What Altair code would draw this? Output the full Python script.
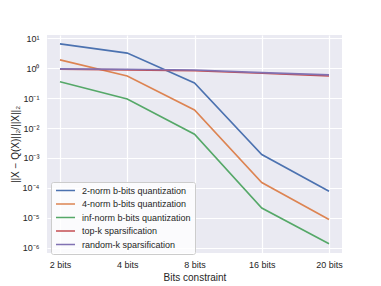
import altair as alt
import pandas as pd

bits = ["2 bits", "4 bits", "8 bits", "16 bits", "20 bits"]
series = [
    "2-norm b-bits quantization",
    "4-norm b-bits quantization",
    "inf-norm b-bits quantization",
    "top-k sparsification",
    "random-k sparsification",
]
norm2 = [6.5, 3.2, 0.32, 1.3e-3, 7.7e-5]
norm4 = [1.9, 0.55, 0.04, 1.5e-4, 8.7e-6]
norminf = [0.35, 0.093, 0.0062, 2.1e-5, 1.35e-6]
topk = [0.92, 0.88, 0.82, 0.68, 0.55]
randk = [0.95, 0.92, 0.87, 0.71, 0.60]
colors = ["#4C72B0", "#DD8452", "#55A868", "#C44E52", "#8172B3"]

rows = []
for name, vals in zip(series, [norm2, norm4, norminf, topk, randk]):
    for b, v in zip(bits, vals):
        rows.append({"bits": b, "series": name, "value": v, "order": series.index(name)})
df = pd.DataFrame(rows)

label_expr = (
    "datum.value >= 9 ? '10¹' : datum.value >= 0.9 ? '10⁰' : datum.value >= 0.09 ? '10⁻¹' : "
    "datum.value >= 0.009 ? '10⁻²' : datum.value >= 0.0009 ? '10⁻³' : datum.value >= 0.00009 ? '10⁻⁴' : "
    "datum.value >= 0.000009 ? '10⁻⁵' : '10⁻⁶'"
)

chart = (
    alt.Chart(df)
    .mark_line(strokeWidth=1.6)
    .encode(
        x=alt.X(
            "bits:N",
            sort=bits,
            scale=alt.Scale(type="point", padding=0.193),
            axis=alt.Axis(title="Bits constraint", labelAngle=0, labelPadding=7, titlePadding=3),
        ),
        y=alt.Y(
            "value:Q",
            scale=alt.Scale(type="log", domain=[6.6e-7, 12.9], nice=False, zero=False),
            axis=alt.Axis(
                title="||X − Q(X)||₂/||X||₂",
                values=[1e-6, 1e-5, 1e-4, 1e-3, 1e-2, 1e-1, 1, 10],
                labelExpr=label_expr,
                labelPadding=8,
                titlePadding=2,
            ),
        ),
        color=alt.Color(
            "series:N",
            sort=series,
            scale=alt.Scale(domain=series, range=colors),
            legend=alt.Legend(
                title=None,
                orient="none",
                legendX=4,
                legendY=147,
                symbolType="stroke",
                symbolSize=361,
                symbolStrokeWidth=1.6,
                clipHeight=9,
                labelFontSize=9,
                labelFont="Liberation Sans",
                labelColor="#262626",
                labelOffset=6,
                rowPadding=3.5,
                padding=4,
                fillColor="rgba(255,255,255,0.8)",
                strokeColor="#cccccc",
                cornerRadius=2,
            ),
        ),
        order=alt.Order("order:Q"),
    )
    .properties(
        width=295,
        height=218,
        autosize=alt.AutoSizeParams(type="none"),
        padding={"left": 39, "top": 27, "right": 30, "bottom": 31},
    )
    .configure_view(fill="#EAEAF2", stroke=None)
    .configure_axis(
        grid=True,
        gridColor="white",
        gridWidth=1.2,
        domain=False,
        ticks=False,
        labelFont="Liberation Sans",
        titleFont="Liberation Sans",
        labelFontSize=9,
        titleFontSize=10,
        labelColor="#262626",
        titleColor="#262626",
        titleFontWeight="normal",
    )
)

chart.save("out.html", embed_options={"renderer": "svg", "actions": False})
